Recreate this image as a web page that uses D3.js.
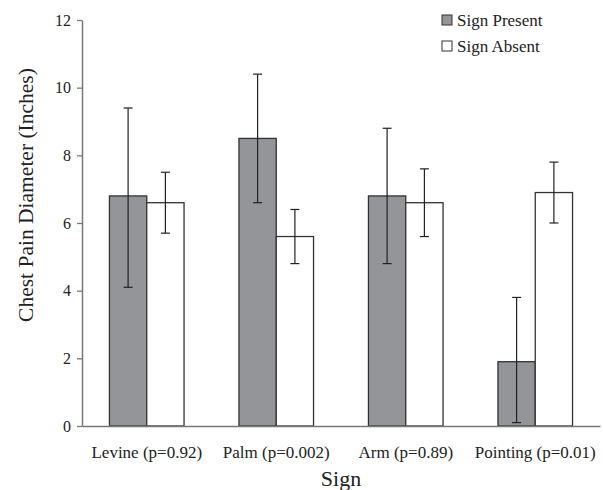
<!DOCTYPE html>
<meta charset="utf-8" />
<style>
  body { margin: 0; background: white; }
  text { font-family: "Liberation Serif", "Times New Roman", serif; fill: #222; }
</style>
<body>
  <svg id="chart" width="603" height="490"></svg>
</body>
<script src="https://d3js.org/d3.v7.min.js"></script>
<script>
  // data
  const signs = ["Levine (p=0.92)", "Palm (p=0.002)", "Arm (p=0.89)", "Pointing (p=0.01)"];
  const groups = ["Sign Present", "Sign Absent"];
  const presentMean = [6.8, 8.5, 6.8, 1.9];
  const presentLow = [4.1, 6.6, 4.8, 0.1];
  const presentHigh = [9.4, 10.4, 8.8, 3.8];
  const absentMean = [6.6, 5.6, 6.6, 6.9];
  const absentLow = [5.7, 4.8, 5.6, 6.0];
  const absentHigh = [7.5, 6.4, 7.6, 7.8];
  const yTicks = [0, 2, 4, 6, 8, 10, 12];

  const svg = d3.select("#chart");
  const margin = { top: 20, right: 3, bottom: 64, left: 82 };
  const width = 603 - margin.left - margin.right;
  const height = 490 - margin.top - margin.bottom;

  const g = svg.append("g")
    .attr("transform", "translate(" + margin.left + "," + margin.top + ")");

  const x0 = d3.scaleBand().domain(signs).range([0, width])
    .paddingInner(0.424).paddingOuter(0.212);
  const x1 = d3.scaleBand().domain(groups).range([0, x0.bandwidth()]);
  const y = d3.scaleLinear().domain([0, 12]).range([height, 0]);
  const fill = d3.scaleOrdinal().domain(groups).range(["#939598", "#ffffff"]);

  // build rows for each bar
  const rows = [];
  signs.forEach((s, i) => {
    rows.push({ sign: s, group: groups[0], mean: presentMean[i], low: presentLow[i], high: presentHigh[i] });
    rows.push({ sign: s, group: groups[1], mean: absentMean[i], low: absentLow[i], high: absentHigh[i] });
  });

  // bars
  g.selectAll(".bar")
    .data(rows)
    .enter()
    .append("rect")
    .attr("class", "bar")
    .attr("x", d => x0(d.sign) + x1(d.group))
    .attr("y", d => y(d.mean))
    .attr("width", x1.bandwidth())
    .attr("height", d => height - y(d.mean))
    .attr("fill", d => fill(d.group))
    .attr("stroke", "#333")
    .attr("stroke-width", 1.3);

  // error bars
  const cx = d => x0(d.sign) + x1(d.group) + x1.bandwidth() / 2;
  const err = g.selectAll(".err").data(rows).enter().append("g")
    .attr("class", "err")
    .attr("stroke", "#222")
    .attr("stroke-width", 1.2);
  err.append("line")
    .attr("x1", cx).attr("x2", cx)
    .attr("y1", d => y(d.low)).attr("y2", d => y(d.high));
  err.append("line")
    .attr("x1", d => cx(d) - 4.5).attr("x2", d => cx(d) + 4.5)
    .attr("y1", d => y(d.high)).attr("y2", d => y(d.high));
  err.append("line")
    .attr("x1", d => cx(d) - 4.5).attr("x2", d => cx(d) + 4.5)
    .attr("y1", d => y(d.low)).attr("y2", d => y(d.low));

  // y axis
  const yAxis = g.append("g")
    .call(d3.axisLeft(y).tickValues(yTicks).tickSize(5).tickSizeOuter(0).tickPadding(6));
  yAxis.select(".domain").attr("stroke", "#777").attr("stroke-width", 1.5);
  yAxis.selectAll(".tick line").attr("stroke", "#777").attr("stroke-width", 1.3);
  yAxis.selectAll(".tick text").style("font-size", "16px").attr("fill", "#222");

  // x axis
  const xAxis = g.append("g")
    .attr("transform", "translate(0," + height + ")")
    .call(d3.axisBottom(x0).tickSize(0).tickPadding(20));
  xAxis.select(".domain").attr("stroke", "#777").attr("stroke-width", 1.5);
  xAxis.selectAll(".tick text").style("font-size", "17px").attr("fill", "#222");

  // axis titles
  g.append("text")
    .attr("x", width / 2)
    .attr("y", height + 60)
    .attr("text-anchor", "middle")
    .style("font-size", "22px")
    .text("Sign");

  g.append("text")
    .attr("transform", "rotate(-90)")
    .attr("x", -(195 - margin.top))
    .attr("y", -49)
    .attr("text-anchor", "middle")
    .style("font-size", "21.5px")
    .text("Chest Pain Diameter (Inches)");

  // legend
  const legend = svg.append("g").attr("transform", "translate(442,15)");
  const item = legend.selectAll(".item").data(groups).enter().append("g")
    .attr("transform", (d, i) => "translate(0," + i * 26 + ")");
  item.append("rect")
    .attr("width", 10).attr("height", 10)
    .attr("fill", d => fill(d))
    .attr("stroke", "#333")
    .attr("stroke-width", 1);
  item.append("text")
    .attr("x", 15)
    .attr("y", 5)
    .attr("dy", "0.35em")
    .style("font-size", "17px")
    .text(d => d);
</script>
